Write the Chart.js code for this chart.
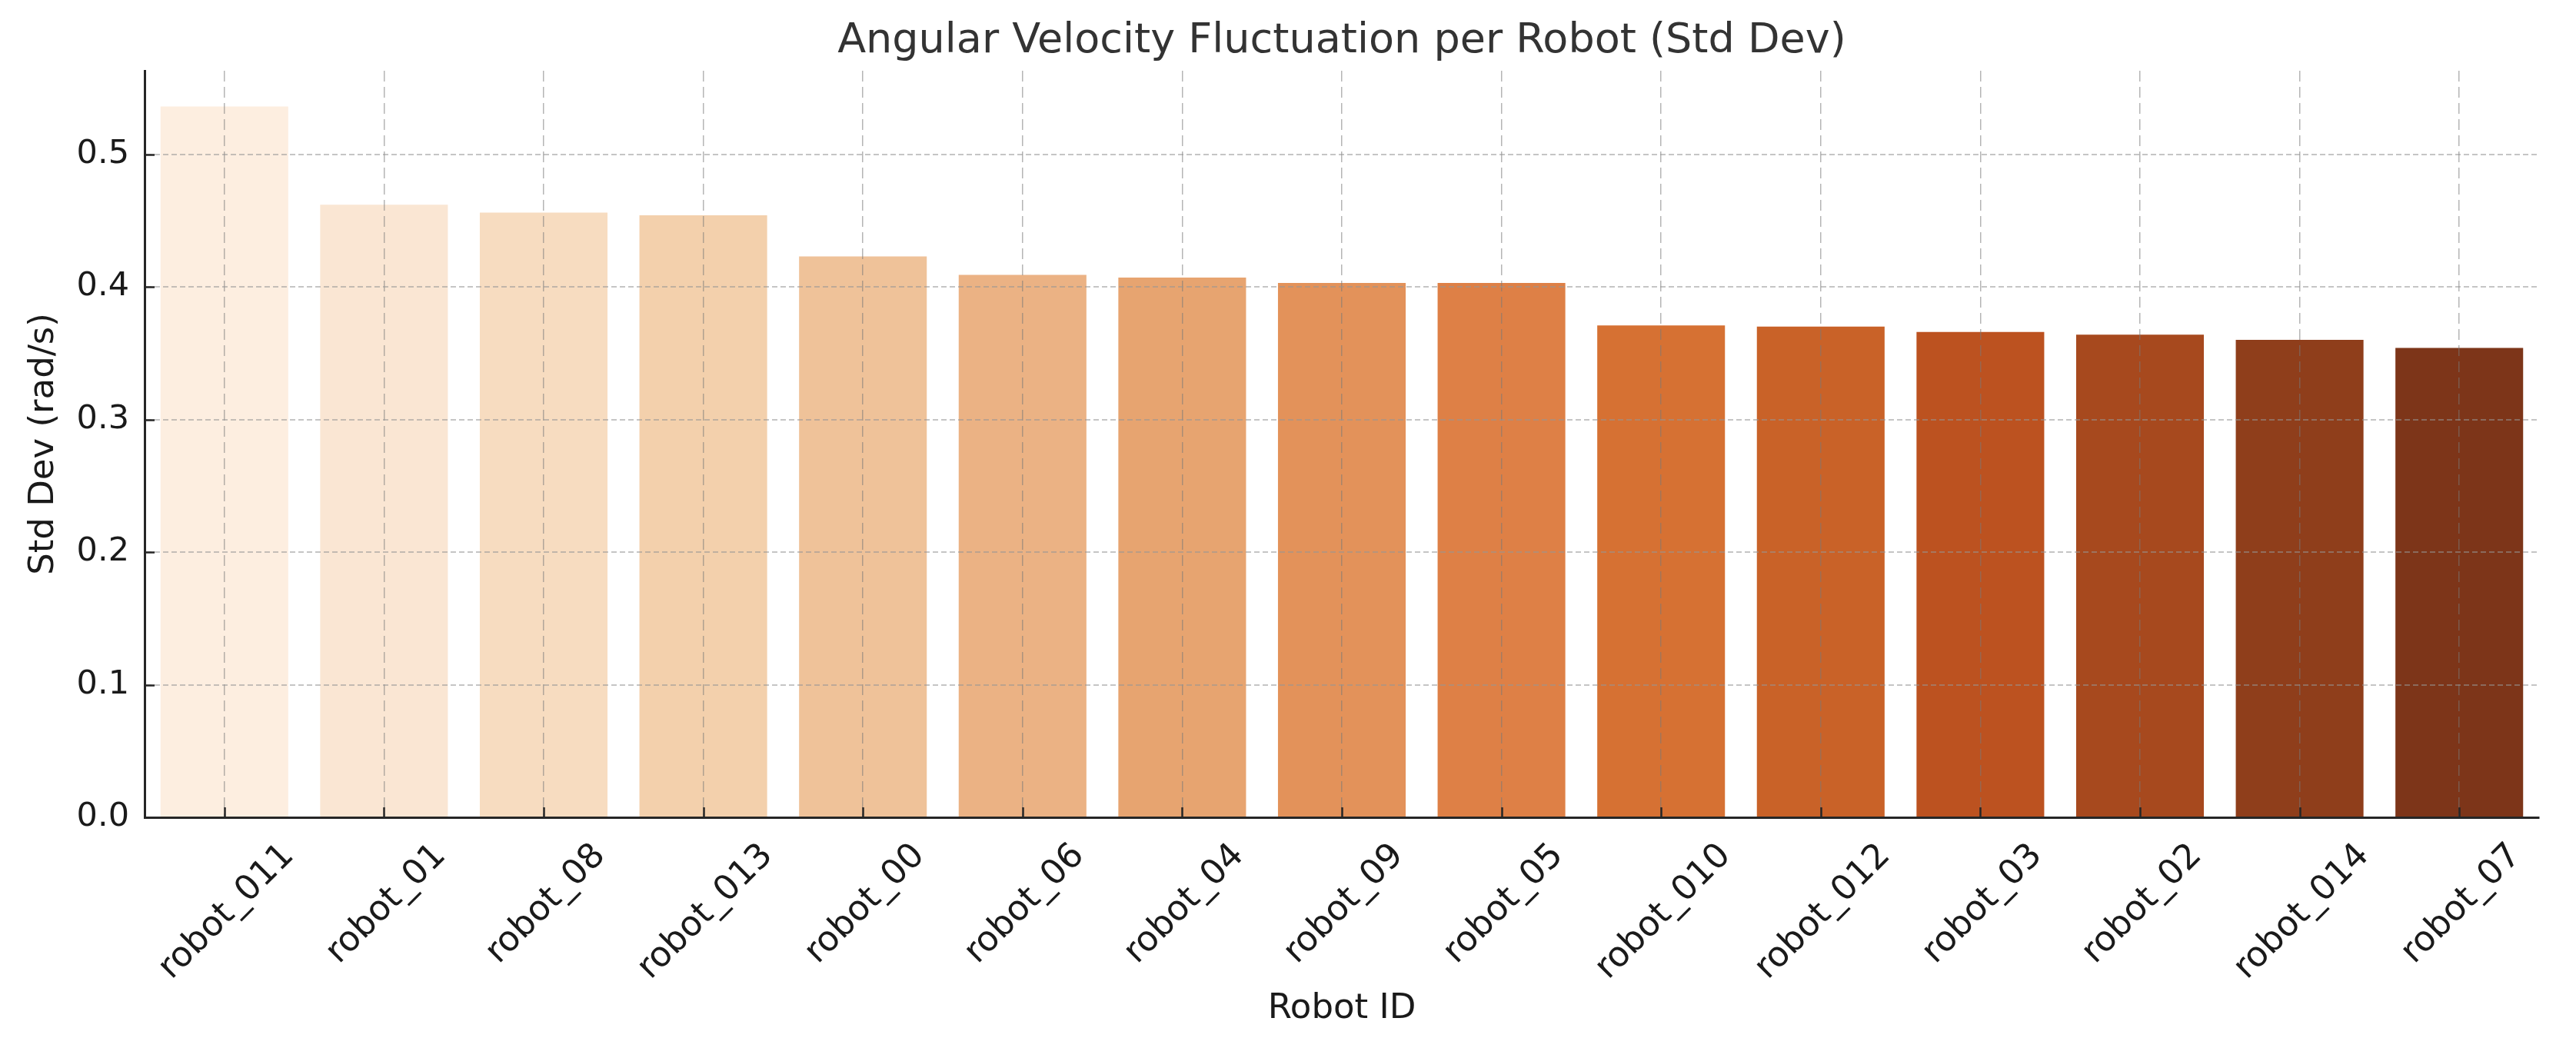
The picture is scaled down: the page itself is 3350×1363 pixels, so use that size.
<!DOCTYPE html>
<html>
<head>
<meta charset="utf-8">
<script src="https://cdn.jsdelivr.net/npm/chart.js@4.4.0/dist/chart.umd.min.js"></script>
<style>
  body { margin: 0; background: #fff; }
  #wrap { width: 3350px; height: 1363px; }
</style>
</head>
<body>
<div id="wrap"><canvas id="chBar" width="3350" height="1363"></canvas></div>
<script>
// data
let robots = ['robot_011', 'robot_01', 'robot_08', 'robot_013', 'robot_00', 'robot_06', 'robot_04',
    'robot_09', 'robot_05', 'robot_010', 'robot_012', 'robot_03', 'robot_02', 'robot_014', 'robot_07'];
let stdDev = [0.536, 0.462, 0.456, 0.454, 0.423, 0.409, 0.407, 0.403, 0.403, 0.371, 0.370, 0.366, 0.364, 0.360, 0.354];
let barColors = ['#fdeee0', '#fae6d3', '#f7dcc0', '#f3d0ac', '#efc299', '#ebb284', '#e7a470', '#e3925a',
    '#de8046', '#d67133', '#c96228', '#bc5220', '#a7491e', '#8f3e1b', '#7d3519'];
let yMax = 0.563;
let yStep = 0.1;
let chartTitle = 'Angular Velocity Fluctuation per Robot (Std Dev)';

let font = '"DejaVu Sans", sans-serif';
let tickSize = 43;
let xLabelSize = 45;

// matplotlib-ish inward ticks, centred 45deg labels, title centred on the axes
const mplTicks = {
    id: 'mplTicks',
    afterDraw(chart) {
        const ctx = chart.ctx;
        const xs = chart.scales.x, ys = chart.scales.y;
        const area = chart.chartArea;
        ctx.save();
        ctx.strokeStyle = '#262626';
        ctx.lineWidth = 2.5;
        ctx.beginPath();
        for (let i = 0; i < xs.ticks.length; i++) {
            const px = Math.round(xs.getPixelForTick(i)) + 0.5;
            ctx.moveTo(px, area.bottom);
            ctx.lineTo(px, area.bottom - 13);
        }
        for (let i = 0; i < ys.ticks.length; i++) {
            const py = Math.round(ys.getPixelForTick(i)) + 0.5;
            ctx.moveTo(area.left, py);
            ctx.lineTo(area.left + 13, py);
        }
        ctx.stroke();

        ctx.font = xLabelSize + 'px ' + font;
        ctx.fillStyle = '#1a1a1a';
        const cap = xLabelSize * 0.73;
        robots.forEach((name, i) => {
            const px = xs.getPixelForValue(i);
            const w = ctx.measureText(name).width;
            const box = (w + cap) / Math.SQRT2;
            const cy = area.bottom + 28 + box / 2;
            ctx.save();
            ctx.translate(px, cy);
            ctx.rotate(-Math.PI / 4);
            ctx.textAlign = 'center';
            ctx.textBaseline = 'alphabetic';
            ctx.fillText(name, 0, cap / 2);
            ctx.restore();
        });

        // title
        ctx.font = '54px ' + font;
        ctx.fillStyle = '#333333';
        ctx.textAlign = 'center';
        ctx.textBaseline = 'alphabetic';
        ctx.fillText(chartTitle, (area.left + area.right) / 2, 68);
        ctx.restore();
    }
};

const config = {
    type: 'bar',
    data: {
        labels: robots,
        datasets: [{
            data: stdDev,
            backgroundColor: barColors,
            borderWidth: 0,
            barPercentage: 0.8,
            categoryPercentage: 1.0
        }]
    },
    options: {
        responsive: false,
        animation: false,
        devicePixelRatio: 1,
        layout: { padding: { left: 0, right: 48, top: 92, bottom: 0 } },
        plugins: {
            legend: { display: false },
            tooltip: { enabled: false },
            title: { display: false }
        },
        scales: {
            x: {
                offset: true,
                afterFit: (s) => { s.height = 300; },
                grid: {
                    offset: false,
                    drawTicks: false,
                    color: 'rgba(120,120,120,0.55)',
                    lineWidth: 1.5,
                    z: 1
                },
                border: { display: true, color: '#262626', width: 3, dash: [14, 7], z: 2 },
                ticks: { display: false },
                title: {
                    display: true,
                    text: 'Robot ID',
                    color: '#1a1a1a',
                    font: { family: font, size: 45, lineHeight: 1.2 },
                    padding: { top: 0, bottom: 24 }
                }
            },
            y: {
                min: 0,
                max: yMax,
                afterFit: (s) => { s.width = 188; },
                grid: {
                    drawTicks: false,
                    color: 'rgba(150,150,150,0.55)',
                    lineWidth: 2,
                    z: 1
                },
                border: { display: true, color: '#262626', width: 3, dash: [7, 4], z: 2 },
                ticks: {
                    stepSize: yStep,
                    includeBounds: false,
                    padding: 20,
                    color: '#1a1a1a',
                    font: { family: font, size: tickSize },
                    callback: (v) => v.toFixed(1)
                },
                title: {
                    display: true,
                    text: 'Std Dev (rad/s)',
                    color: '#1a1a1a',
                    font: { family: font, size: 45, lineHeight: 1.2 },
                    padding: { top: 30, bottom: 0 }
                }
            }
        }
    },
    plugins: [mplTicks]
};

var chBar = document.getElementById('chBar');
if (chBar) {
    new Chart(chBar, config);
}
</script>
</body>
</html>
